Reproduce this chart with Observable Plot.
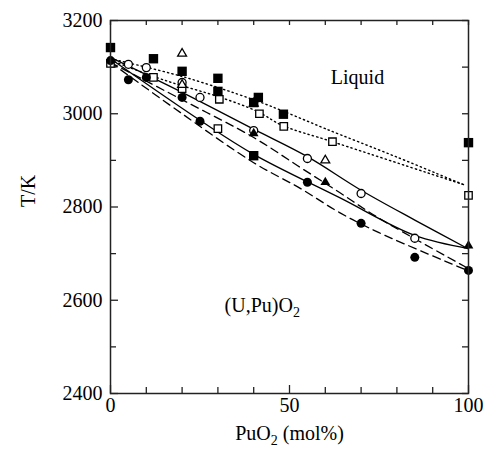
<!DOCTYPE html>
<html><head><meta charset="utf-8">
<script src="https://cdn.jsdelivr.net/npm/d3@7"></script>
<script src="https://cdn.jsdelivr.net/npm/@observablehq/plot@0.6"></script>
<style>
body{margin:0;background:#fff;}
svg, svg text, svg g { font-family: "Liberation Serif", "Times New Roman", serif !important; }
</style>
</head><body><div id="chart"></div>
<script>
// Tick values
const xTicksMajor = [0, 50, 100];
const xTicksMinor = [10, 20, 30, 40, 60, 70, 80, 90];
const yTicksMajor = [2400, 2600, 2800, 3000, 3200];
const yTicksMinor = [2500, 2700, 2900, 3100];

// Measured points [PuO2 mol%, T/K]
const filledSquares = [[0,3142],[12,3118],[20,3091],[30,3076],[30,3048],[40,3024],[41.3,3035],[48.3,2999],[40,2910],[100,2938]];
const openSquares = [[0,3108],[12,3078],[20,3054],[30,2968],[30.4,3031],[41.6,3000],[48.4,2973],[62,2940],[100,2825]];
const openCircles = [[5,3106],[10,3099],[20,3067],[25,3035],[40,2964],[55,2904],[70,2829],[85,2733]];
const filledCircles = [[0,3114],[5,3073],[10,3078],[20,3035],[25,2984],[55,2853],[70,2765],[85,2692],[100,2664]];
const openTriangles = [[20,3129],[20,3062],[40,3022],[60,2900]];
const filledTriangles = [[40,2958],[60,2853],[100,2717]];

// Curves
const liquidusSolid = [[0,3121],[20,3046],[40,2967],[55,2908],[70,2836],[85,2772],[100,2710]];
const solidusSolid = [[0,3118],[25,2986],[40,2913],[64,2820],[85,2739],[100,2711]];
const liquidusDashed = [[0,3110],[20,3030],[40,2949],[53,2885],[64,2831],[75,2776],[100,2668]];
const solidusDashed = [[0,3110],[20,3000],[40,2895],[53,2840],[64,2788],[75,2745],[100,2663]];
const liquidusDotted = [[0,3118],[20,3080],[40,3030],[50,3000],[60,2968],[80,2907],[98.6,2848]];
const solidusDotted = [[0,3115],[12,3080],[20,3060],[30,3037],[41,3005],[48,2975],[62,2940],[98.6,2848]];

// Labels
const annotations = [{x: 69, y: 3078, text: "Liquid"}, {x: 42.4, y: 2589, text: "(U,Pu)O₂"}];
const xLabel = "PuO₂ (mol%)";
const yLabel = "T/K";

const W = 484, H = 455, mL = 110, mR = 16, mT = 20, mB = 62;
const pw = W - mL - mR, ph = H - mT - mB;
const X = d => d[0], Y = d => d[1];
const lineOpts = {x: X, y: Y, curve: "catmull-rom", stroke: "#000", strokeWidth: 1.3};
const serif = '"Liberation Serif", "Times New Roman", serif';

const svg = Plot.plot({
  width: W, height: H,
  marginLeft: mL, marginRight: mR, marginTop: mT, marginBottom: mB,
  x: {domain: [0, 100]},
  y: {domain: [2400, 3200]},
  style: {fontFamily: serif, fontSize: "20px", color: "#000", background: "#fff"},
  marks: [
    Plot.axisX(xTicksMajor, {anchor: "bottom", tickSize: 0, tickPadding: 4, label: null, tickFormat: d => String(d), fontSize: 20}),
    Plot.axisY(yTicksMajor, {anchor: "left", tickSize: 0, tickPadding: 8, label: null, tickFormat: d => String(d), fontSize: 20}),
    Plot.tickX(xTicksMajor, {x: d => d, insetTop: ph - 8, stroke: "#222", strokeWidth: 1.3}),
    Plot.tickX(xTicksMinor, {x: d => d, insetTop: ph - 6, stroke: "#222", strokeWidth: 1.3}),
    Plot.tickX(xTicksMajor.concat(xTicksMinor), {x: d => d, insetBottom: ph - 5, stroke: "#222", strokeWidth: 1.3}),
    Plot.tickY(yTicksMajor, {y: d => d, insetRight: pw - 8, stroke: "#222", strokeWidth: 1.3}),
    Plot.tickY(yTicksMinor, {y: d => d, insetRight: pw - 6, stroke: "#222", strokeWidth: 1.3}),
    Plot.tickY(yTicksMajor.concat(yTicksMinor), {y: d => d, insetLeft: pw - 6, stroke: "#222", strokeWidth: 1.3}),
    Plot.line(liquidusSolid, lineOpts),
    Plot.line(solidusSolid, lineOpts),
    Plot.line(liquidusDashed, {...lineOpts, strokeDasharray: "8,5"}),
    Plot.line(solidusDashed, {...lineOpts, strokeDasharray: "8,5"}),
    Plot.line(liquidusDotted, {...lineOpts, strokeWidth: 1.4, strokeDasharray: "1.3,3.2"}),
    Plot.line(solidusDotted, {...lineOpts, strokeWidth: 1.4, strokeDasharray: "1.3,3.2"}),
    Plot.dot(openSquares, {x: X, y: Y, symbol: "square", r: 4.2, fill: "#fff", stroke: "#000", strokeWidth: 1.3}),
    Plot.dot(openCircles, {x: X, y: Y, symbol: "circle", r: 4, fill: "#fff", stroke: "#000", strokeWidth: 1.3}),
    Plot.dot(openTriangles, {x: X, y: Y, symbol: "triangle", r: 3.3, fill: "#fff", stroke: "#000", strokeWidth: 1.3}),
    Plot.dot(filledSquares, {x: X, y: Y, symbol: "square", r: 5.3, fill: "#000", stroke: "none"}),
    Plot.dot(filledCircles, {x: X, y: Y, symbol: "circle", r: 4.5, fill: "#000", stroke: "none"}),
    Plot.dot(filledTriangles, {x: X, y: Y, symbol: "triangle", r: 3.6, fill: "#000", stroke: "none"}),
    Plot.text(annotations, {x: "x", y: "y", text: "text", fontSize: 20, fontFamily: serif, fill: "#000"}),
    Plot.text([xLabel], {text: d => d, frameAnchor: "bottom", dy: 46, fontSize: 20, fontFamily: serif, fill: "#000"}),
    Plot.text([yLabel], {text: d => d, frameAnchor: "left", dx: -82, rotate: -90, fontSize: 20, fontFamily: serif, fill: "#000"}),
    Plot.frame({stroke: "#222", strokeWidth: 1.5})
  ]
});

// Render "₂" as a real subscript
d3.select(svg).selectAll("text").each(function() {
  const t = this.textContent;
  if (!t.includes("₂")) return;
  const parts = t.split("₂");
  const sel = d3.select(this);
  sel.text(null);
  parts.forEach((p, i) => {
    if (i > 0) sel.append("tspan").attr("font-size", "14px").attr("dy", "5").text("2");
    if (p) sel.append("tspan").attr("dy", i > 0 ? "-5" : null).text(p);
  });
});

document.getElementById("chart").appendChild(svg);
</script>
</body></html>
